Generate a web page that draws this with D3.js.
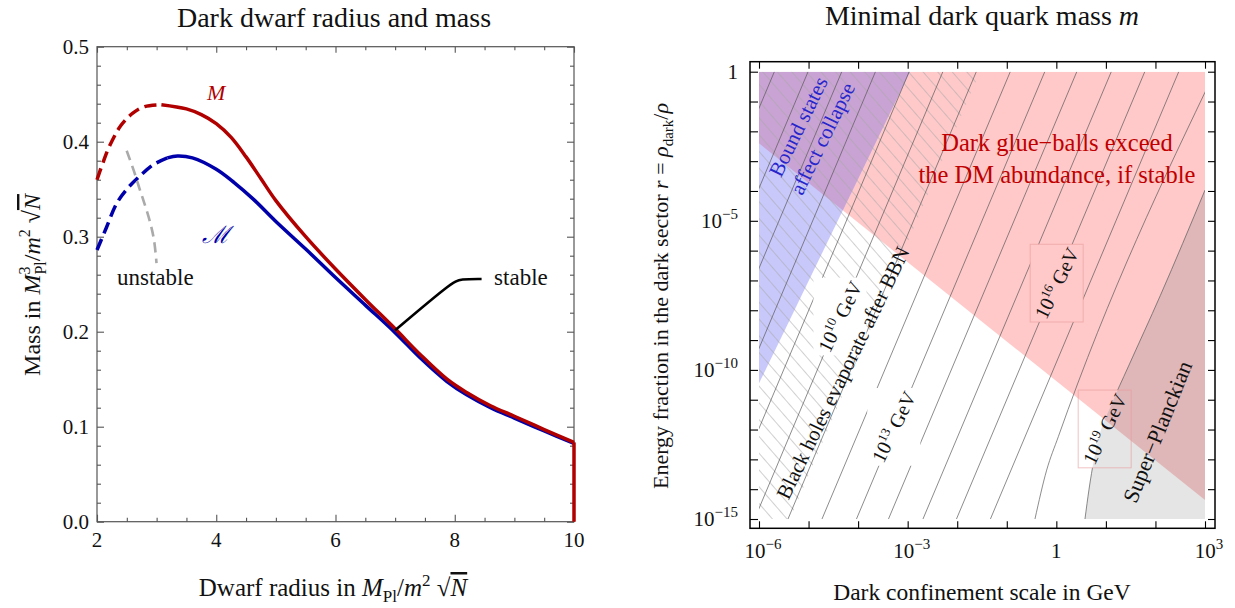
<!DOCTYPE html>
<html><head><meta charset="utf-8">
<script src="https://cdn.jsdelivr.net/npm/d3@7"></script>
<style>
body{margin:0;background:#fff}
text{font-family:"Liberation Serif","Times New Roman",serif;fill:#111}
</style></head><body>
<svg id="chart" width="1235" height="608"></svg>
<script>
// ---------- left panel data ----------
const radiusTicks = [2, 4, 6, 8, 10];
const massTicks = [0.0, 0.1, 0.2, 0.3, 0.4, 0.5];
// mass M (red), unstable branch then stable branch
const redUnstable = [[2,0.36],[2.1,0.378],[2.2,0.394],[2.4,0.417],[2.6,0.430],[2.8,0.437],[3.08,0.439]];
const redStable = [[3.08,0.439],[3.5,0.4345],[3.75,0.4285],[4.0,0.419],[4.25,0.4045],[4.5,0.384],[4.75,0.361],[5.0,0.338],[5.5,0.300],[6.0,0.266],[6.5,0.234],[7.0,0.203],[7.42,0.176],[7.87,0.150],[8.2,0.136],[8.6,0.122],[9.0,0.111],[9.5,0.097],[10,0.0835]];
const redDrop = [[10,0.0835],[10,0]];
// mass script-M (blue)
const blueUnstable = [[2,0.286],[2.16,0.31],[2.33,0.335],[2.5,0.350],[2.72,0.364],[2.95,0.376],[3.18,0.383]];
const blueStable = [[3.18,0.383],[3.35,0.385],[3.6,0.383],[4.0,0.371],[4.3,0.357],[4.63,0.339],[5.0,0.316],[5.5,0.287],[6.0,0.257],[6.5,0.228],[7.0,0.199],[7.42,0.1725],[7.87,0.1475],[8.2,0.1335],[8.6,0.12],[9.0,0.109],[9.5,0.0955],[10,0.0825]];
// unstable branch (gray dashed)
const grayBranch = [[2.498,0.3905],[2.62,0.369],[2.721,0.349],[2.777,0.3386],[2.889,0.3155],[2.956,0.2965],[2.998,0.2723]];
// pointer from the label "stable"
const stablePointer = [[7.0,0.2015],[7.95,0.252],[8.1,0.2555],[8.45,0.2555]];

// ---------- right panel data (log10 values) ----------
const scaleExps = [-6,-5,-4,-3,-2,-1,0,1,2,3];
const scaleLabelExps = [-6,-3,0,3];
const fracExps = d3.range(-15, 1);
const fracLabelExps = [0,-5,-10,-15];
const glueRegion = [[-6,-2.40],[-6,0],[3,0],[3,-14.36]];
const boundRegion = [[-6,0],[-2.953,0],[-6,-10.45]];
const bbnRegion = [[-6,0],[-1.54,0],[-5.374,-15],[-6,-15]];
// contours of minimal quark mass, 10^5 ... 10^19 GeV
const contourExps = [5,6,7,8,9,10,11,12,13,14,15,16,17,18,19];
const contourLines = [
  [[-9.49,-15],[-5.69,0]],
  [[-8.81,-15],[-5.01,0]],
  [[-8.13,-15],[-4.33,0]],
  [[-7.45,-15],[-3.65,0]],
  [[-6.77,-15],[-2.97,0]],
  [[-6.09,-15],[-2.29,0]],
  [[-5.415,-15],[-1.615,0]],
  [[-4.729,-15],[-0.929,0]],
  [[-4.033,-15],[-0.233,0]],
  [[-3.387,-15],[0.413,0]],
  [[-2.691,-15],[1.109,0]],
  [[-2.015,-15],[1.785,0]],
  [[-1.33,-15],[2.47,0]],
  [[-0.431,-15],[-0.195,-13.36],[0.04,-12.24],[3.2,0]],
  [[0.578,-15],[0.66,-14.0],[0.76,-13.0],[0.881,-12.12],[1.1,-11.2],[1.45,-9.9],[2.1,-7.5],[3,-3.97]]
];
const contourLabels = [
  {exp: 10, at: [-4.366,-8.21], box: false},
  {exp: 13, at: [-3.28,-11.91], box: false},
  {exp: 16, at: [0.007,-7.09], box: true},
  {exp: 19, at: [0.976,-11.98], box: true}
];

const svg = d3.select("#chart");

// rich text helper: parts {t, i (italic), s (raise px), fs, dx, o (overline)}
function rich(text, parts) {
  let cur = 0;
  parts.forEach(p => {
    const s = p.s || 0;
    const ts = text.append("tspan").text(p.t).attr("dy", cur - s);
    cur = s;
    if (p.i) ts.attr("font-style", "italic");
    if (p.fs) ts.attr("font-size", p.fs);
    if (p.dx) ts.attr("dx", p.dx);
    if (p.o) ts.attr("text-decoration", "overline");
  });
  return text;
}

function inwardTicks(g, axisFn, scale, values, size, tx, ty, color) {
  g.append("g")
    .attr("transform", `translate(${tx},${ty})`)
    .call(axisFn(scale).tickValues(values).tickSize(size).tickFormat(""))
    .call(a => a.select(".domain").remove())
    .selectAll("line").attr("stroke", color).attr("stroke-width", 1.1);
}

// ================= LEFT PANEL =================
const xL = d3.scaleLinear().domain([2, 10]).range([97, 574]);
const yL = d3.scaleLinear().domain([0, 0.5]).range([521.7, 46.7]);
const gL = svg.append("g");
const frameL = "#555";

const minorX = d3.range(2, 10.01, 0.5).filter(v => !radiusTicks.includes(v));
const minorY = d3.range(0, 0.501, 0.02).map(v => +v.toFixed(2)).filter(v => Math.round(v * 100) % 10 !== 0);

inwardTicks(gL, d3.axisBottom, xL, radiusTicks, -7, 0, yL(0), frameL);
inwardTicks(gL, d3.axisBottom, xL, minorX, -4, 0, yL(0), frameL);
inwardTicks(gL, d3.axisTop, xL, radiusTicks, -6, 0, yL(0.5), frameL);
inwardTicks(gL, d3.axisTop, xL, minorX, -3.5, 0, yL(0.5), frameL);
inwardTicks(gL, d3.axisLeft, yL, massTicks, -7, xL(2), 0, frameL);
inwardTicks(gL, d3.axisLeft, yL, minorY, -4, xL(2), 0, frameL);
inwardTicks(gL, d3.axisRight, yL, massTicks, -7, xL(10), 0, frameL);
inwardTicks(gL, d3.axisRight, yL, minorY, -4, xL(10), 0, frameL);

gL.append("rect")
  .attr("x", xL(2)).attr("y", yL(0.5))
  .attr("width", xL(10) - xL(2)).attr("height", yL(0) - yL(0.5))
  .attr("fill", "none").attr("stroke", frameL).attr("stroke-width", 1.2);

gL.selectAll("text.xl").data(radiusTicks).join("text")
  .attr("x", d => xL(d)).attr("y", yL(0) + 25)
  .attr("text-anchor", "middle").attr("font-size", 21).text(d => d);
gL.selectAll("text.yl").data(massTicks).join("text")
  .attr("x", xL(2) - 8).attr("y", d => yL(d) + 7)
  .attr("text-anchor", "end").attr("font-size", 21).text(d => d.toFixed(1));

const lineL = d3.line().x(d => xL(d[0])).y(d => yL(d[1])).curve(d3.curveCatmullRom.alpha(0.5));
const lineStraight = d3.line().x(d => xL(d[0])).y(d => yL(d[1]));

const blue = "#0000aa", red = "#b00000";
gL.append("path").attr("d", lineL(blueUnstable)).attr("fill", "none")
  .attr("stroke", blue).attr("stroke-width", 3.5).attr("stroke-dasharray", "12 6");
gL.append("path").attr("d", lineL(blueStable)).attr("fill", "none")
  .attr("stroke", blue).attr("stroke-width", 3.5);
gL.append("path").attr("d", lineL(redUnstable)).attr("fill", "none")
  .attr("stroke", red).attr("stroke-width", 3.5).attr("stroke-dasharray", "12 6");
gL.append("path").attr("d", lineL(redStable)).attr("fill", "none")
  .attr("stroke", red).attr("stroke-width", 3.5);
gL.append("path").attr("d", lineStraight(redDrop)).attr("fill", "none")
  .attr("stroke", red).attr("stroke-width", 3.5);
gL.append("path").attr("d", lineL(grayBranch)).attr("fill", "none")
  .attr("stroke", "#aaa").attr("stroke-width", 2.6).attr("stroke-dasharray", "10 6");
gL.append("path").attr("d", d3.line().x(d => xL(d[0])).y(d => yL(d[1])).curve(d3.curveBasis)(stablePointer))
  .attr("fill", "none").attr("stroke", "#000").attr("stroke-width", 2.6);

gL.append("text").attr("x", xL(4.0)).attr("y", yL(0.444)).attr("text-anchor", "middle")
  .attr("font-size", 22).attr("font-style", "italic").style("fill", red).text("M");
gL.append("text").attr("x", xL(4.0)).attr("y", yL(0.2934)).attr("text-anchor", "middle")
  .attr("font-size", 24).attr("font-style", "italic").style("fill", blue).text("ℳ");
gL.append("text").attr("x", xL(2.335)).attr("y", yL(0.249)).attr("font-size", 23).text("unstable");
gL.append("text").attr("x", xL(8.66)).attr("y", yL(0.249)).attr("font-size", 23).text("stable");

gL.append("text").attr("x", 334).attr("y", 27).attr("text-anchor", "middle")
  .attr("font-size", 28).text("Dark dwarf radius and mass");
rich(gL.append("text").attr("x", 333).attr("y", 596).attr("text-anchor", "middle").attr("font-size", 25), [
  {t: "Dwarf radius in "}, {t: "M", i: true}, {t: "Pl", s: -6, fs: 17},
  {t: "/"}, {t: "m", i: true}, {t: "2", s: 10, fs: 17}, {t: " √"}, {t: "N", i: true, o: true}
]);
rich(gL.append("text").attr("transform", "translate(40,285) rotate(-90)").attr("text-anchor", "middle").attr("font-size", 24), [
  {t: "Mass in "}, {t: "M", i: true}, {t: "3", s: 10, fs: 16}, {t: "Pl", s: -6, fs: 16, dx: -8},
  {t: "/"}, {t: "m", i: true}, {t: "2", s: 10, fs: 16}, {t: " √"}, {t: "N", i: true, o: true}
]);

// ================= RIGHT PANEL =================
const xR = d3.scaleLog().domain([1e-6, 1e3]).range([759, 1205]);
const yR = d3.scaleLog().domain([1e-15, 1]).range([519, 71.7]);
const P = d => [xR(10 ** d[0]), yR(10 ** d[1])];
const poly = pts => "M" + pts.map(P).map(p => p.join(",")).join("L") + "Z";
const lineR = d3.line().x(d => P(d)[0]).y(d => P(d)[1]);
const curveR = d3.line().x(d => P(d)[0]).y(d => P(d)[1]).curve(d3.curveMonotoneX);
const fL = 750, fR = 1215, fT = 61.7, fB = 528.3;

const gR = svg.append("g");
const defs = svg.append("defs");
defs.append("clipPath").attr("id", "dataClip").append("rect")
  .attr("x", xR(1e-6)).attr("y", yR(1)).attr("width", xR(1e3) - xR(1e-6)).attr("height", yR(1e-15) - yR(1));
defs.append("clipPath").attr("id", "glueClip").append("path").attr("d", poly(glueRegion));
const hatch = defs.append("pattern").attr("id", "hatch").attr("patternUnits", "userSpaceOnUse")
  .attr("width", 11).attr("height", 11).attr("patternTransform", "rotate(-41)");
hatch.append("line").attr("x1", 0).attr("y1", 0).attr("x2", 0).attr("y2", 11)
  .attr("stroke", "#a8a8a8").attr("stroke-width", 1.1);

const planckPath = curveR(contourLines[14]) + "L" + P([3, -15]).join(",") + "Z";

const regions = gR.append("g").attr("clip-path", "url(#dataClip)");
regions.append("path").attr("d", poly(glueRegion)).attr("fill", "#ffc9c9");
regions.append("path").attr("d", poly(boundRegion)).attr("fill", "#c8c8fa");
regions.append("path").attr("d", planckPath).attr("fill", "#e5e5e5");
const overlap = regions.append("g").attr("clip-path", "url(#glueClip)");
overlap.append("path").attr("d", poly(boundRegion)).attr("fill", "#c9a3d3");
overlap.append("path").attr("d", planckPath).attr("fill", "#e0b7b9");

// contour labels, then masks around them
const labelAngle = 64;
const labelG = gR.append("g");
const labelBoxes = [];
contourLabels.forEach(l => {
  const [cx, cy] = P(l.at);
  const g = labelG.append("g").attr("transform", `translate(${cx},${cy}) rotate(${-labelAngle})`);
  const t = rich(g.append("text").attr("text-anchor", "middle").attr("y", 7).attr("font-size", 20), [
    {t: "10"}, {t: String(l.exp), s: 8, fs: 13}, {t: " GeV"}
  ]);
  const w = t.node().getComputedTextLength(), h = 22;
  const a = labelAngle * Math.PI / 180;
  const W = w * Math.cos(a) + h * Math.sin(a), Hh = w * Math.sin(a) + h * Math.cos(a);
  labelBoxes.push({x: cx - W / 2, y: cy - Hh / 2, w: W, h: Hh, box: l.box});
});
const mask = defs.append("mask").attr("id", "labelMask").attr("maskUnits", "userSpaceOnUse")
  .attr("x", 0).attr("y", 0).attr("width", 1235).attr("height", 608);
mask.append("rect").attr("width", 1235).attr("height", 608).attr("fill", "#fff");
labelBoxes.forEach(b => mask.append("rect").attr("x", b.x).attr("y", b.y).attr("width", b.w).attr("height", b.h).attr("fill", "#000"));

const lines = gR.insert("g", () => labelG.node()).attr("clip-path", "url(#dataClip)");
const masked = lines.append("g").attr("mask", "url(#labelMask)");
masked.append("path").attr("d", poly(bbnRegion)).attr("fill", "url(#hatch)");
masked.selectAll("path.c").data(contourLines).join("path")
  .attr("d", d => d.length > 2 ? curveR(d) : lineR(d))
  .attr("fill", "none").attr("stroke", "#555").attr("stroke-opacity", 0.85).attr("stroke-width", 0.8);
lines.selectAll("rect.lb").data(labelBoxes.filter(b => b.box)).join("rect")
  .attr("x", b => b.x).attr("y", b => b.y).attr("width", b => b.w).attr("height", b => b.h)
  .attr("fill", "none").attr("stroke", "#e89a9a").attr("stroke-opacity", 0.6).attr("stroke-width", 1);

// region labels
const [bx, by] = P([-4.971, -2.035]);
const bt = gR.append("text").attr("transform", `translate(${bx},${by}) rotate(-64)`)
  .attr("text-anchor", "middle").attr("font-size", 21).style("fill", "#2626cc");
bt.append("tspan").attr("x", 0).attr("dy", -6).text("Bound states");
bt.append("tspan").attr("x", 0).attr("dy", 27).text("affect collapse");

const [gx, gy] = P([0.013, -2.66]);
const gt = gR.append("text").attr("text-anchor", "middle").attr("font-size", 24.5).style("fill", "#c00000");
gt.append("tspan").attr("x", gx).attr("y", gy).text("Dark glue−balls exceed");
gt.append("tspan").attr("x", gx).attr("y", gy + 32).text("the DM abundance, if stable");

const [kx, ky] = P([-4.305, -10.10]);
gR.append("text").attr("transform", `translate(${kx},${ky}) rotate(-64)`)
  .attr("text-anchor", "middle").attr("y", 7).attr("font-size", 21).text("Black holes evaporate after BBN");
const [sx, sy] = P([2.05, -12.08]);
gR.append("text").attr("transform", `translate(${sx},${sy}) rotate(-68)`)
  .attr("text-anchor", "middle").attr("y", 7).attr("font-size", 22).text("Super−Planckian");

// frame and ticks
const xRt = scaleExps.map(e => 10 ** e), yRt = fracExps.map(e => 10 ** e);
inwardTicks(gR, d3.axisBottom, xR, xRt, -7, 0, fB, "#000");
inwardTicks(gR, d3.axisTop, xR, xRt, -7, 0, fT, "#000");
inwardTicks(gR, d3.axisLeft, yR, yRt, -8, fL, 0, "#000");
inwardTicks(gR, d3.axisRight, yR, yRt, -7, fR, 0, "#000");
gR.append("rect").attr("x", fL).attr("y", fT).attr("width", fR - fL).attr("height", fB - fT)
  .attr("fill", "none").attr("stroke", "#000").attr("stroke-width", 1.5);

const powLabel = (t, e) => e === 0 ? rich(t, [{t: "1"}]) : rich(t, [{t: "10"}, {t: (e < 0 ? "−" : "") + Math.abs(e), s: 9, fs: 15}]);
scaleLabelExps.forEach(e => {
  const t = gR.append("text").attr("x", xR(10 ** e) + (e === 0 ? 0 : 4)).attr("y", fB + 30)
    .attr("text-anchor", "middle").attr("font-size", 21);
  powLabel(t, e);
});
fracLabelExps.forEach(e => {
  const t = gR.append("text").attr("x", fL - 12).attr("y", yR(10 ** e) + 7)
    .attr("text-anchor", "end").attr("font-size", 21);
  powLabel(t, e);
});

rich(gR.append("text").attr("x", 982).attr("y", 25).attr("text-anchor", "middle").attr("font-size", 28), [
  {t: "Minimal dark quark mass "}, {t: "m", i: true}
]);
gR.append("text").attr("x", 982).attr("y", 600).attr("text-anchor", "middle").attr("font-size", 23.5)
  .text("Dark confinement scale in GeV");
rich(gR.append("text").attr("transform", "translate(668,296) rotate(-90)").attr("text-anchor", "middle").attr("font-size", 22), [
  {t: "Energy fraction in the dark sector "}, {t: "r", i: true}, {t: " = "}, {t: "ρ", i: true},
  {t: "dark", s: -5, fs: 15}, {t: "/"}, {t: "ρ", i: true}
]);
</script>
</body></html>
